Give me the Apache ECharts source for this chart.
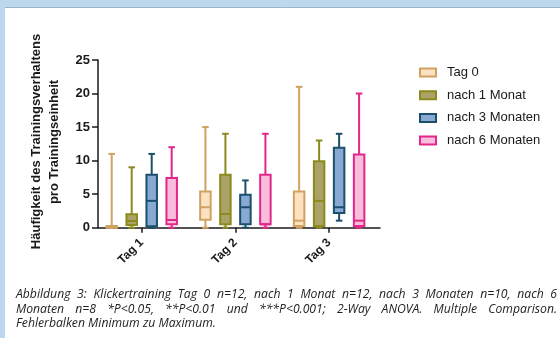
<!DOCTYPE html>
<html>
<head>
<meta charset="utf-8">
<script src="https://cdn.jsdelivr.net/npm/echarts@6/dist/echarts.min.js"></script>
<style>
html, body { margin: 0; padding: 0; background: #fff; }
#chart { width: 560px; height: 338px; }
</style>
</head>
<body>
<div id="chart"></div>
<script>
// Categories on the x axis and the four measurement times
const categories = ['Tag 1', 'Tag 2', 'Tag 3'];
const groupNames = ['Tag 0', 'nach 1 Monat', 'nach 3 Monaten', 'nach 6 Monaten'];

// Box values per category: [min, Q1, median, Q3, max]
const tag0 = [[0, 0, 0, 0.25, 11], [0, 1.2, 3.05, 5.4, 15], [0, 0.25, 1.05, 5.4, 21]];
const monat1 = [[0, 0.4, 1, 2, 9], [0, 0.5, 2.05, 7.9, 14], [0, 0.25, 4, 9.9, 13]];
const monate3 = [[0, 0.2, 4, 7.9, 11], [0, 0.5, 3.05, 4.9, 7.05], [1.05, 2.2, 3.05, 11.9, 14]];
const monate6 = [[0, 0.5, 1.15, 7.4, 12], [0, 0.5, 0.5, 7.9, 14], [0, 0.25, 1.05, 10.9, 20]];

// y axis tick values
const yTicks = [0, 5, 10, 15, 20, 25];

const captionLines = [
  'Abbildung 3: Klickertraining Tag 0 n=12, nach 1 Monat n=12, nach 3 Monaten n=10, nach 6',
  'Monaten n=8 *P<0.05, **P<0.01 und ***P<0.001; 2-Way ANOVA. Multiple Comparison.',
  'Fehlerbalken Minimum zu Maximum.'
];

const allGroups = [tag0, monat1, monate3, monate6];
const strokeColors = ['#cfa262', '#8b8a1f', '#1c4f6c', '#e2278a'];
const fillColors = ['#fde2c2', '#aaa266', '#87a9d2', '#f9bcda'];

const GROUP_STEP = 0.2134;   // spacing of boxes within a category, in axis units
const BOX_WIDTH = 0.112;     // box width, in axis units
const CAP_WIDTH = 0.07;      // whisker cap width, in axis units
const LINE_W = 2;

function makeRenderer(idx) {
  return function (params, api) {
    const cx = api.value(0) + (idx - 1.5) * GROUP_STEP;
    const unit = api.size([1, 0])[0];
    const x = api.coord([cx, 0])[0];
    const yMin = api.coord([cx, api.value(1)])[1];
    const yQ1 = api.coord([cx, api.value(2)])[1];
    const yMed = api.coord([cx, api.value(3)])[1];
    const yQ3 = api.coord([cx, api.value(4)])[1];
    const yMax = api.coord([cx, api.value(5)])[1];
    const hw = unit * BOX_WIDTH / 2;
    const cw = unit * CAP_WIDTH / 2;
    const stroke = strokeColors[idx];
    const lineStyle = { stroke: stroke, lineWidth: LINE_W, fill: null };
    return {
      type: 'group',
      children: [
        { type: 'line', shape: { x1: x, y1: yMin, x2: x, y2: yMax }, style: lineStyle },
        { type: 'line', shape: { x1: x - cw, y1: yMax, x2: x + cw, y2: yMax }, style: lineStyle },
        { type: 'line', shape: { x1: x - cw, y1: yMin, x2: x + cw, y2: yMin }, style: lineStyle },
        { type: 'rect', shape: { x: x - hw, y: yQ3, width: hw * 2, height: yQ1 - yQ3 },
          style: { fill: fillColors[idx], stroke: stroke, lineWidth: LINE_W } },
        { type: 'line', shape: { x1: x - hw, y1: yMed, x2: x + hw, y2: yMed }, style: lineStyle }
      ]
    };
  };
}

const series = allGroups.map(function (rows, idx) {
  return {
    name: groupNames[idx],
    type: 'custom',
    renderItem: makeRenderer(idx),
    itemStyle: { color: fillColors[idx], borderColor: strokeColors[idx], borderWidth: 2 },
    encode: { x: 0, y: [1, 2, 3, 4, 5] },
    data: rows.map(function (r, c) { return [c + 1].concat(r); }),
    z: 3
  };
});

// Justified caption built from separately placed words
const CAP_FONT_SIZE = 12.2;
const CAP_FONT = 'italic ' + CAP_FONT_SIZE + 'px "Open Sans"';
const CAP_LEFT = 16, CAP_RIGHT = 557;
const CAP_Y = [295, 309.5, 324];
const measureCtx = document.createElement('canvas').getContext('2d');
measureCtx.font = CAP_FONT;
const captionElements = [];
captionLines.forEach(function (line, li) {
  const words = line.split(' ');
  const widths = words.map(function (w) { return measureCtx.measureText(w).width; });
  const total = widths.reduce(function (a, b) { return a + b; }, 0);
  const justify = li < captionLines.length - 1;
  const gap = justify ? (CAP_RIGHT - CAP_LEFT - total) / (words.length - 1)
                      : measureCtx.measureText(' ').width;
  let x = CAP_LEFT;
  words.forEach(function (w, wi) {
    captionElements.push({
      type: 'text', x: x, y: CAP_Y[li],
      style: { text: w, font: CAP_FONT, fill: '#1e1e1e', verticalAlign: 'middle', align: 'left' }
    });
    x += widths[wi] + gap;
  });
});

const chart = echarts.init(document.getElementById('chart'), null, { renderer: 'canvas' });
chart.setOption({
  backgroundColor: '#ffffff',
  animation: false,
  grid: { left: 98, right: 180, top: 60, bottom: 110.3, containLabel: false },
  xAxis: {
    type: 'value',
    min: 0.5336,
    max: 3.543,
    splitLine: { show: false },
    axisLine: { show: true, lineStyle: { color: '#1a1a1a', width: 1.5 } },
    axisTick: { show: true, customValues: [1, 2, 3], length: 5, lineStyle: { color: '#1a1a1a', width: 1.5 } },
    axisLabel: {
      customValues: [1, 2, 3],
      formatter: function (v) { return categories[Math.round(v) - 1] || ''; },
      rotate: 45, margin: 13,
      fontFamily: 'Liberation Sans, Arial, sans-serif', fontSize: 12, fontWeight: 'bold', color: '#1a1a1a'
    }
  },
  yAxis: {
    type: 'value',
    min: yTicks[0],
    max: yTicks[yTicks.length - 1],
    interval: yTicks[1] - yTicks[0],
    splitLine: { show: false },
    axisLine: { show: true, lineStyle: { color: '#1a1a1a', width: 1.5 } },
    axisTick: { show: true, length: 6, lineStyle: { color: '#1a1a1a', width: 1.5 } },
    axisLabel: {
      margin: 8,
      fontFamily: 'Liberation Sans, Arial, sans-serif', fontSize: 13, fontWeight: 'bold', color: '#1a1a1a'
    }
  },
  legend: {
    orient: 'vertical',
    left: 419, top: 66, padding: 0,
    itemWidth: 16, itemHeight: 8, itemGap: 9.7,
    icon: 'rect',
    textStyle: { fontFamily: 'Liberation Sans, Arial, sans-serif', fontSize: 13, color: '#1a1a1a', padding: [0, 0, 0, 6] },
    data: groupNames.map(function (n, i) {
      return { name: n, itemStyle: { color: fillColors[i], borderColor: strokeColors[i], borderWidth: 2 } };
    })
  },
  graphic: [
    { type: 'rect', shape: { x: 0, y: 0, width: 560, height: 7 }, style: { fill: '#bdd7ee' }, silent: true },
    { type: 'line', shape: { x1: 5, y1: 7.5, x2: 560, y2: 7.5 }, style: { stroke: '#9db3c6', lineWidth: 1 }, silent: true },
    { type: 'rect', shape: { x: 0, y: 0, width: 5, height: 338 }, style: { fill: '#bdd7ee' }, silent: true },
    { type: 'text', x: 36, y: 141.5, rotation: Math.PI / 2,
      style: { text: 'Häufigkeit des Trainingsverhaltens', font: 'bold 13px "Liberation Sans", Arial, sans-serif',
               fill: '#1a1a1a', align: 'center', verticalAlign: 'middle' } },
    { type: 'text', x: 54, y: 142, rotation: Math.PI / 2,
      style: { text: 'pro Trainingseinheit', font: 'bold 13px "Liberation Sans", Arial, sans-serif',
               fill: '#1a1a1a', align: 'center', verticalAlign: 'middle' } }
  ].concat(captionElements),
  series: series
});
</script>
</body>
</html>
